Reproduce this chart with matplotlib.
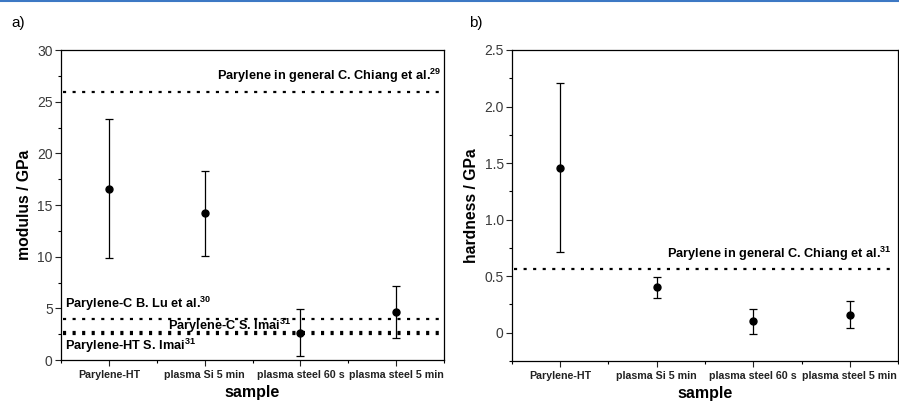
import matplotlib
matplotlib.use("Agg")
import matplotlib.pyplot as plt
from matplotlib.lines import Line2D
from matplotlib.ticker import MultipleLocator, FuncFormatter

plt.rcParams['font.family'] = ['Liberation Sans', 'DejaVu Sans']
plt.rcParams['mathtext.fontset'] = 'custom'
plt.rcParams['mathtext.rm'] = 'Liberation Sans'
plt.rcParams['mathtext.bf'] = 'Liberation Sans:bold'

samples = ['Parylene-HT', 'plasma Si 5 min', 'plasma steel 60 s', 'plasma steel 5 min']
modulus = [16.6, 14.2, 2.65, 4.65]
modulus_err = [6.75, 4.1, 2.25, 2.55]
hardness = [1.46, 0.40, 0.10, 0.16]
hardness_err = [0.75, 0.09, 0.11, 0.12]

# literature reference values
mod_refs = [26.0, 4.0, 2.76, 2.55]
mod_ref_labels = ['Parylene in general C. Chiang et al.', 'Parylene-C B. Lu et al.',
                  'Parylene-C S. Imai', 'Parylene-HT S. Imai']
mod_ref_cites = ['29', '30', '31', '31']
hard_refs = [0.56]
hard_ref_labels = ['Parylene in general C. Chiang et al.']
hard_ref_cites = ['31']

fig = plt.figure(figsize=(8.99, 4.05), dpi=100)
ax1 = fig.add_axes([0.0679, 0.111, 0.426, 0.765])
ax2 = fig.add_axes([0.5695, 0.1086, 0.4294, 0.768])

fig.add_artist(Line2D([0, 1], [0.997, 0.997], color='#3d78c4', lw=1.5))

x = list(range(1, len(samples) + 1))
dot = (0, (1.4, 2.9))
fs_ref = 9.2


def style(ax, ylab, major, minor):
    ax.set_xlim(0.5, 4.5)
    ax.set_xticks(x)
    ax.set_xticklabels(samples, fontsize=7.7, fontweight='bold', color='#222222')
    ax.xaxis.set_minor_locator(MultipleLocator(0.5))
    ax.yaxis.set_major_locator(MultipleLocator(major))
    ax.yaxis.set_minor_locator(MultipleLocator(minor))
    ax.tick_params(axis='both', which='major', direction='out', length=4, width=0.8,
                   colors='#222222')
    ax.tick_params(axis='both', which='minor', direction='out', length=2.5, width=0.8)
    ax.tick_params(axis='y', labelsize=10, labelcolor='#3a3a3a', pad=2)
    ax.tick_params(axis='x', pad=3)
    for s in ax.spines.values():
        s.set_linewidth(0.9)
    ax.set_xlabel('sample', fontsize=11.5, fontweight='bold', labelpad=4)
    ax.set_ylabel(ylab, fontsize=11.3, fontweight='bold', labelpad=4)


# a) modulus
ax1.errorbar(x, modulus, yerr=modulus_err, fmt='o', color='black', ms=5,
             elinewidth=0.9, capsize=2.8, capthick=0.9, zorder=3)
for v in mod_refs:
    ax1.axhline(v, xmin=0.005, xmax=0.995, color='black', lw=1.6, ls=dot)
ax1.set_ylim(0, 30)
style(ax1, 'modulus / GPa', 5, 2.5)
ax1.yaxis.set_major_formatter(FuncFormatter(lambda v, p: '%d' % v))

ax1.text(4.47, 26.6, mod_ref_labels[0] + r'$^{\mathbf{%s}}$' % mod_ref_cites[0],
         ha='right', va='bottom', fontsize=fs_ref, fontweight='bold')
ax1.text(0.54, 4.6, mod_ref_labels[1] + r'$^{\mathbf{%s}}$' % mod_ref_cites[1],
         ha='left', va='bottom', fontsize=fs_ref, fontweight='bold')
ax1.text(1.62, 3.3, mod_ref_labels[2] + r'$^{\mathbf{%s}}$' % mod_ref_cites[2],
         ha='left', va='center', fontsize=fs_ref, fontweight='bold')
ax1.text(0.54, 1.35, mod_ref_labels[3] + r'$^{\mathbf{%s}}$' % mod_ref_cites[3],
         ha='left', va='center', fontsize=fs_ref, fontweight='bold')

# b) hardness
ax2.errorbar(x, hardness, yerr=hardness_err, fmt='o', color='black', ms=5,
             elinewidth=0.9, capsize=2.8, capthick=0.9, zorder=3)
for v in hard_refs:
    ax2.axhline(v, xmin=0.005, xmax=0.995, color='black', lw=1.6, ls=dot)
ax2.set_ylim(-0.25, 2.5)
style(ax2, 'hardness / GPa', 0.5, 0.25)
ax2.yaxis.set_major_formatter(FuncFormatter(
    lambda v, p: '0' if abs(v) < 1e-9 else '%.1f' % v))

ax2.text(4.43, 0.615, hard_ref_labels[0] + r'$^{\mathbf{%s}}$' % hard_ref_cites[0],
         ha='right', va='bottom', fontsize=fs_ref, fontweight='bold')

fig.text(0.013, 0.942, 'a)', fontsize=11, va='center')
fig.text(0.522, 0.942, 'b)', fontsize=11, va='center')

fig.savefig('out.png', dpi=100)
